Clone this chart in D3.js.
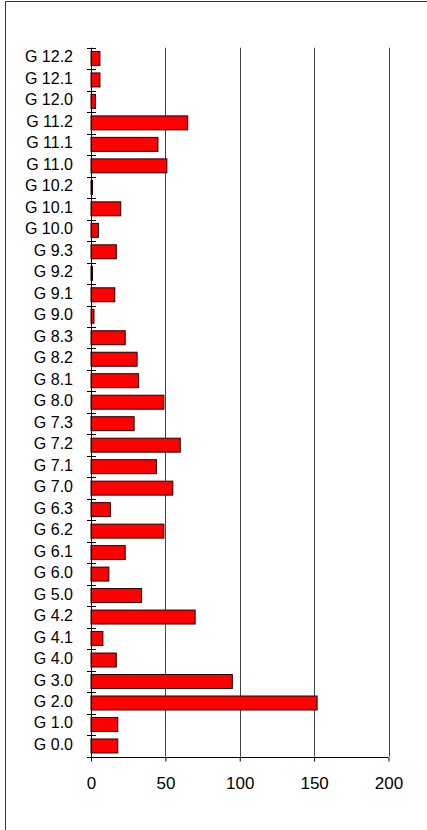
<!DOCTYPE html>
<html>
<head>
<meta charset="utf-8">
<script src="https://cdn.jsdelivr.net/npm/d3@7"></script>
<style>
  html, body { margin: 0; padding: 0; background: #fff; }
  svg { display: block; }
  text { font-family: "Liberation Sans", Arial, sans-serif; fill: #000; }
</style>
</head>
<body>
<div id="chart"></div>
<script>
// Categories listed bottom to top
const categories = ["G 0.0","G 1.0","G 2.0","G 3.0","G 4.0","G 4.1","G 4.2","G 5.0",
  "G 6.0","G 6.1","G 6.2","G 6.3","G 7.0","G 7.1","G 7.2","G 7.3",
  "G 8.0","G 8.1","G 8.2","G 8.3","G 9.0","G 9.1","G 9.2","G 9.3",
  "G 10.0","G 10.1","G 10.2","G 11.0","G 11.1","G 11.2","G 12.0","G 12.1","G 12.2"];
const values = [18,18,152,95,17,8,70,34,
  12,23,49,13,55,44,60,29,
  49,32,31,23,2,16,1,17,
  5,20,1,51,45,65,3,6,6];
const xTicks = [0, 50, 100, 150, 200];

(function () {
const W = 427, H = 830;
const svg = d3.select("#chart").append("svg").attr("width", W).attr("height", H);

// frame
svg.append("path")
  .attr("d", "M5.5," + H + "V1.5H" + W)
  .attr("fill", "none").attr("stroke", "#333").attr("stroke-width", 1);

const pLeft = 91, pRight = 388.5, pTop = 47.7, pBottom = 756.7;

const x = d3.scaleLinear().domain([0, 200]).range([pLeft, pRight]);
const order = categories.slice().reverse();
const y = d3.scaleBand().domain(order).range([pTop, pBottom]).paddingInner(0.35).paddingOuter(0.175);
const yb = d3.scaleBand().domain(order).range([pTop, pBottom]);

// gridlines
svg.append("g").selectAll("line").data(xTicks.filter(d => d > 0)).join("line")
  .attr("x1", d => Math.round(x(d)) + 0.5).attr("x2", d => Math.round(x(d)) + 0.5)
  .attr("y1", pTop).attr("y2", pBottom)
  .attr("stroke", "#444").attr("stroke-width", 1);

// bars
const data = categories.map((c, i) => ({c, v: values[i]}));
svg.append("g").selectAll("rect").data(data).join("rect")
  .attr("x", x(0))
  .attr("y", d => y(d.c))
  .attr("width", d => x(d.v) - x(0))
  .attr("height", y.bandwidth())
  .attr("fill", "#ff0000")
  .attr("stroke", "#200000").attr("stroke-width", 1);

// x axis
const xAxis = d3.axisBottom(x).tickValues(xTicks).tickSize(4).tickPadding(15).tickFormat(d3.format("d"));
const gx = svg.append("g").attr("transform", "translate(0," + (Math.round(pBottom) + 0.5) + ")").call(xAxis);
gx.select(".domain").attr("stroke", "#000").attr("d", "M" + x(0) + ",0H" + x(200));
gx.selectAll(".tick line").attr("stroke", "#000");
gx.selectAll("text").attr("font-size", 17).attr("font-family", "Liberation Sans, Arial, sans-serif");

// y axis: line + cross ticks at band boundaries
const ax = Math.round(pLeft) + 0.5;
svg.append("line").attr("x1", ax).attr("x2", ax).attr("y1", pTop).attr("y2", pBottom + 3.5).attr("stroke", "#000");
const boundaries = order.map(c => yb(c)).concat([pBottom]);
svg.append("g").selectAll("line").data(boundaries).join("line")
  .attr("x1", ax - 4.5).attr("x2", ax + 4.5)
  .attr("y1", d => Math.round(d) + 0.5).attr("y2", d => Math.round(d) + 0.5)
  .attr("stroke", "#000");

// y labels
svg.append("g").selectAll("text").data(categories).join("text")
  .attr("x", 73)
  .attr("y", d => yb(d) + yb.bandwidth() / 2 + 4)
  .attr("text-anchor", "end")
  .attr("font-size", 16)
  .text(d => d);
})();
</script>
</body>
</html>
